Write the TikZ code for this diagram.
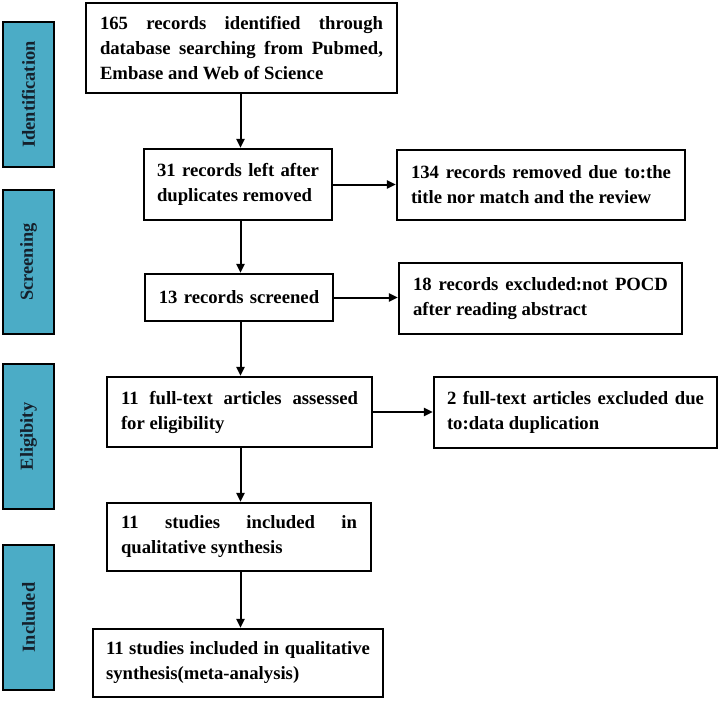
\documentclass[tikz,border=0pt]{standalone}
\usepackage{fontspec}
\setmainfont{Liberation Serif}
\usetikzlibrary{arrows.meta}
\definecolor{teal}{HTML}{4BACC6}
\definecolor{labelink}{HTML}{15202B}
\begin{document}
\begin{tikzpicture}[x=1pt,y=1pt,
  flowbox/.style={draw=black, line width=2.2pt, fill=white, inner ysep=0pt,
    font=\fontsize{18.7}{25}\selectfont\bfseries, align=justify},
  stagebox/.style={draw=black, line width=2.6pt, fill=teal, minimum width=51pt,
    inner sep=0pt, text=labelink, font=\fontsize{18.4}{22}\selectfont\bfseries, rotate=90},
  arr/.style={line width=2pt, -{Triangle[length=9pt,width=8pt]}}
]
\useasboundingbox (0,0) rectangle (720,-701);
\tolerance=9999 \hyphenpenalty=10000 \emergencystretch=20pt

% stage labels
\node[stagebox, minimum width=145pt, minimum height=51pt] (sI) at (28.5,-94.5) {Identification};
\node[stagebox, minimum width=144pt, minimum height=51pt] (sS) at (28.5,-262) {Screening};
\node[stagebox, minimum width=145pt, minimum height=51pt] (sE) at (28.5,-436.5) {Eligibity};
\node[stagebox, minimum width=145pt, minimum height=51pt] (sN) at (28.5,-617.5) {Included};

% main flow
\node[flowbox, text width=283pt, inner xsep=14pt, minimum height=90pt] (b1) at (241.5,-48)
  {165 records identified through\linebreak database searching from Pubmed,\linebreak Embase and Web of Science};
\node[flowbox, text width=162pt, inner xsep=13pt, minimum height=71pt] (b2) at (238,-184.5)
  {31 records left after duplicates removed};
\node[flowbox, text width=260pt, inner xsep=14pt, minimum height=70pt] (b3) at (541,-185)
  {134 records removed due to:the title nor match and the review};
\node[flowbox, text width=176pt, inner xsep=6pt, minimum height=47pt, align=center] (b4) at (239,-297.5)
  {13 records screened};
\node[flowbox, text width=255pt, inner xsep=14pt, minimum height=71pt] (b5) at (540.5,-298.5)
  {18 records excluded:not POCD after reading abstract};
\node[flowbox, text width=237pt, inner xsep=14pt, minimum height=70pt] (b6) at (239.5,-412)
  {11 full-text articles assessed for eligibility};
\node[flowbox, text width=257pt, inner xsep=13pt, minimum height=71pt] (b7) at (575.5,-412.5)
  {2 full-text articles excluded due to:data duplication};
\node[flowbox, text width=236pt, inner xsep=14pt, minimum height=68pt] (b8) at (239,-537)
  {11 studies included in qualitative synthesis};
\node[flowbox, text width=264pt, inner xsep=13pt, minimum height=68pt] (b9) at (238,-663)
  {11 studies included in qualitative synthesis(meta-analysis)};

\coordinate (ax) at (240.5,0);
\draw[arr] (b1.south -| ax) -- (b2.north -| ax);
\draw[arr] (b2.south -| ax) -- (b4.north -| ax);
\draw[arr] (b4.south -| ax) -- (b6.north -| ax);
\draw[arr] (b6.south -| ax) -- (b8.north -| ax);
\draw[arr] (b8.south -| ax) -- (b9.north -| ax);
\draw[arr] (b2.east) -- (b3.west |- b2.east);
\draw[arr] (b4.east) -- (b5.west |- b4.east);
\draw[arr] (b6.east) -- (b7.west |- b6.east);
\end{tikzpicture}
\end{document}
